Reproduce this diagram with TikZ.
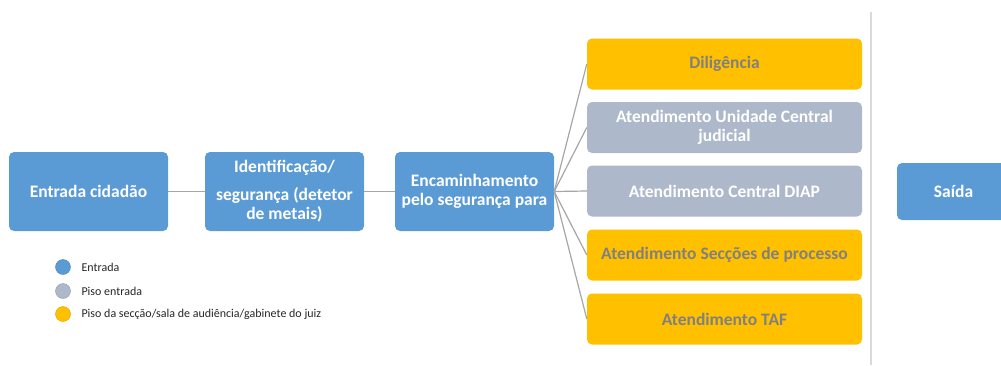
\documentclass[tikz,border=0pt]{standalone}
\usepackage{fontspec}
\setmainfont{Carlito}
\usepackage{tikz}
\definecolor{flowblue}{RGB}{91,155,213}
\definecolor{flowgrey}{RGB}{173,185,202}
\definecolor{flowamber}{RGB}{255,192,0}
\definecolor{flowtext}{RGB}{128,128,128}
\definecolor{flowline}{RGB}{166,166,166}

\begin{document}
\begin{tikzpicture}[x=1pt,y=-1pt,
  box/.style={rounded corners=5pt,align=center,inner sep=2pt,
    font=\fontsize{17.5}{19.5}\selectfont\bfseries},
  entry/.style={box,fill=flowblue,text=white,minimum width=159pt,minimum height=79pt},
  floor/.style={box,fill=flowgrey,text=white,minimum width=275pt,minimum height=51pt},
  section/.style={box,fill=flowamber,text=flowtext,minimum width=275pt,minimum height=51pt},
  link/.style={draw=flowline,line width=1.2pt},
  divider/.style={draw=black!15,line width=1.2pt},
  keydot/.style={circle,minimum size=15pt,inner sep=0pt,draw=#1!85!black,line width=.4pt,fill=#1},
  keytext/.style={anchor=west,font=\fontsize{12}{14}\selectfont,text=black!85}]

\clip (0,0) rectangle (1001,365);
\node[entry] (entrada) at (88.5,191.5) {Entrada cidadão};
\node[entry] (ident) at (284.5,191.5) {Identificação/\\[8pt]segurança (detetor\\de metais)};
\node[entry] (encam) at (474.5,191.5) {Encaminhamento\\pelo segurança para};
\node[section] (dilig) at (724.5,64) {Diligência};
\node[floor] (unidade) at (724.5,127.5) {Atendimento Unidade Central\\judicial};
\node[floor] (diap) at (724.5,191) {Atendimento Central DIAP};
\node[section] (seccoes) at (724.5,255) {Atendimento Secções de processo};
\node[section] (taf) at (724.5,319) {Atendimento TAF};
\node[entry,minimum width=113pt,minimum height=57pt] (saida) at (953.5,191.5) {Saída};
\draw[link] (entrada.east)--(ident.west);
\draw[link] (ident.east)--(encam.west);
\foreach \dest in {dilig,unidade,diap,seccoes,taf}
  \draw[link] (encam.east)--(\dest.west);
\draw[divider] (871,12)--(871,365);
\node[keydot=flowblue] (kentrada) at (63,267) {};
\node[keydot=flowgrey] (kpiso) at (63,291) {};
\node[keydot=flowamber] (kseccao) at (63,314) {};
\node[keytext] at (78,267) {Entrada};
\node[keytext] at (78,291) {Piso entrada};
\node[keytext] at (78,314) {Piso da secção/sala de audiência/gabinete do juiz};

\end{tikzpicture}
\end{document}
